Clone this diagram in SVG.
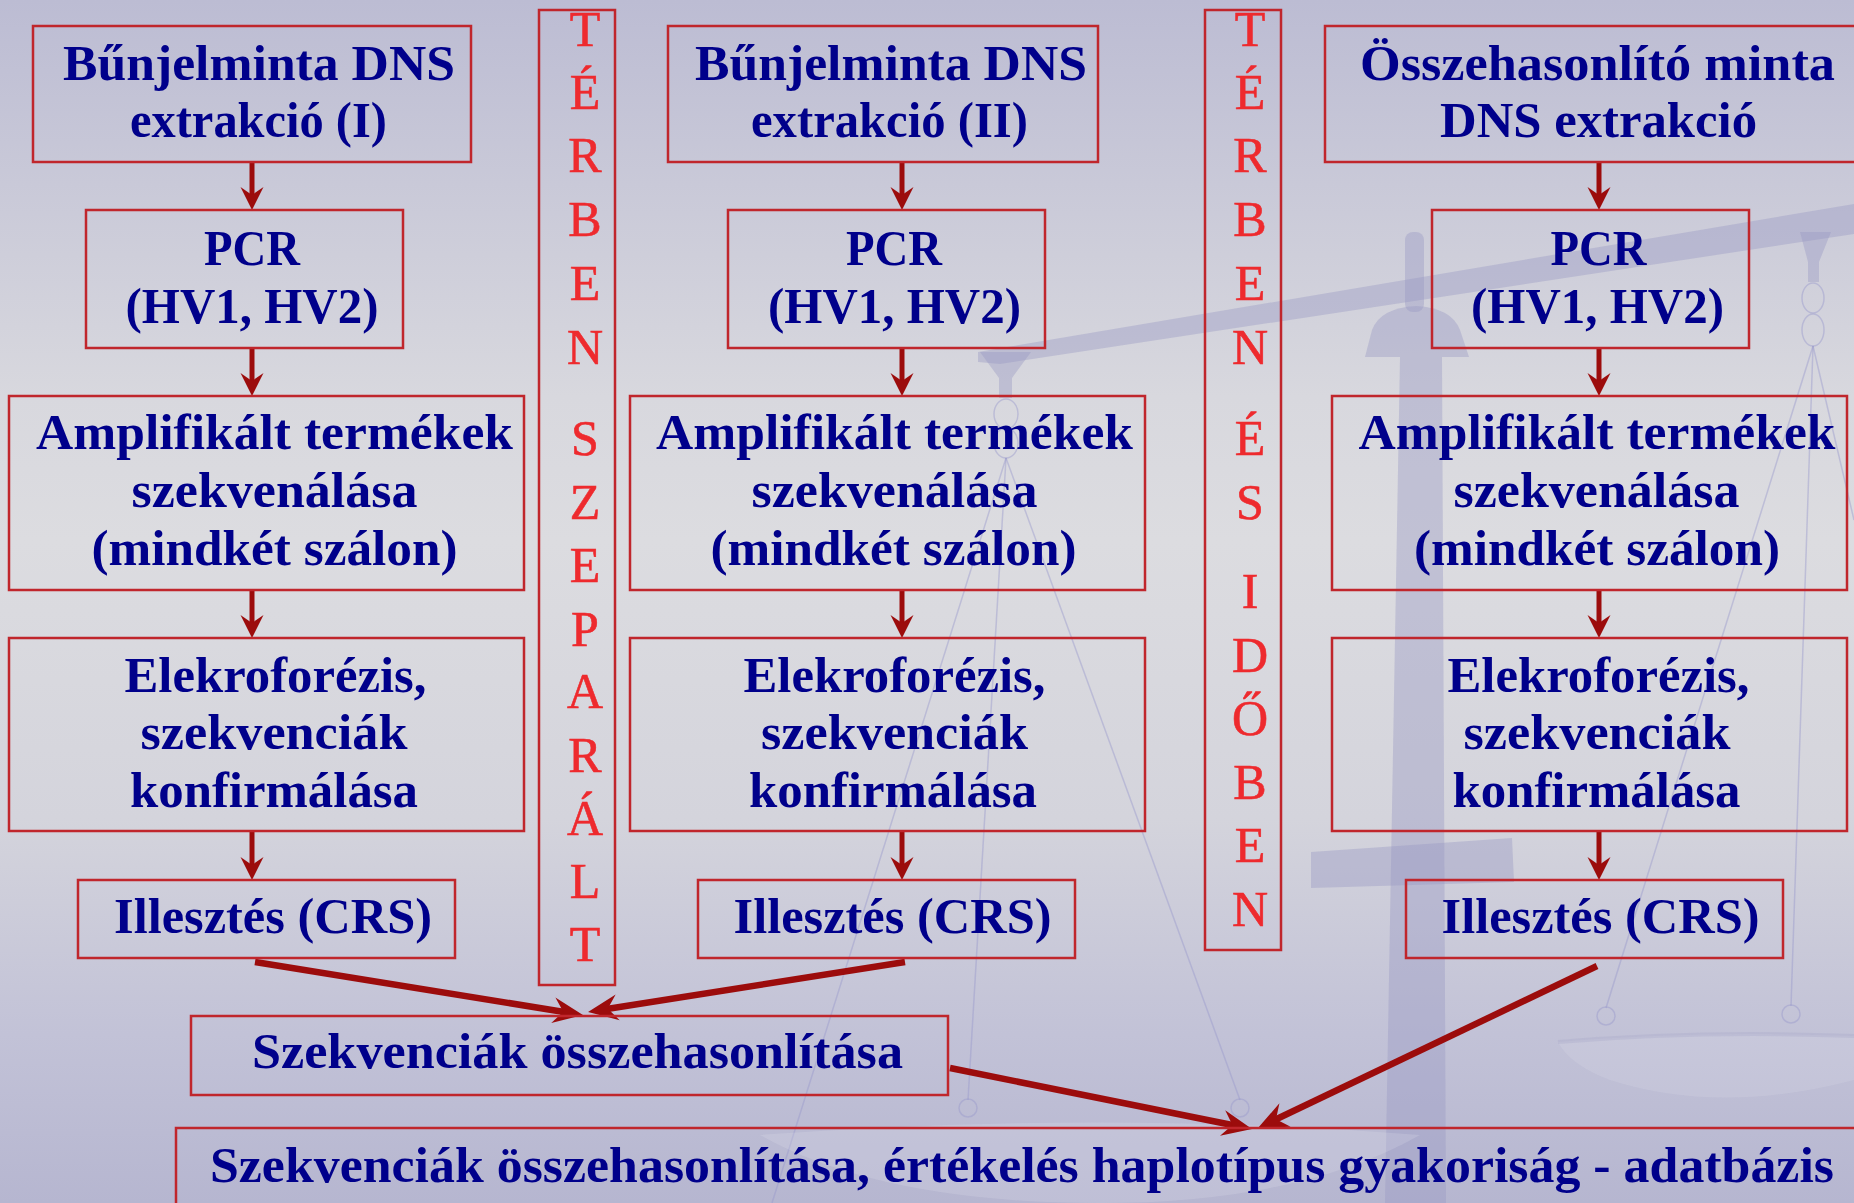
<svg xmlns="http://www.w3.org/2000/svg" width="1854" height="1203" viewBox="0 0 1854 1203">
  <defs>
    <linearGradient id="bg" x1="0" y1="0" x2="0" y2="1">
      <stop offset="0" stop-color="#bcbcd3"/>
      <stop offset="0.33" stop-color="#d8d8de"/>
      <stop offset="0.45" stop-color="#dcdce0"/>
      <stop offset="0.68" stop-color="#d4d4dc"/>
      <stop offset="0.86" stop-color="#c2c2d7"/>
      <stop offset="1" stop-color="#b6b6d0"/>
    </linearGradient>
    <marker id="ah" viewBox="-24 -12 25 24" markerWidth="25" markerHeight="24" refX="-14" refY="0" orient="auto" markerUnits="userSpaceOnUse">
      <path d="M0,0 L-23,-11.5 L-15,0 L-23,11.5 Z" fill="#9c0c0c"/>
    </marker>
    <marker id="ah2" viewBox="-31 -14 32 28" markerWidth="32" markerHeight="28" refX="-19" refY="0" orient="auto" markerUnits="userSpaceOnUse">
      <path d="M0,0 L-30,-13 L-20,0 L-30,13 Z" fill="#9c0c0c"/>
    </marker>
    <style>
      .box { fill: none; stroke: #c0262c; stroke-width: 2.5; }
      .t { font-family: "Liberation Serif", "Times New Roman", serif; font-weight: bold; font-size: 50px; fill: #00008b; text-anchor: middle; }
      .v { font-family: "Liberation Serif", "Times New Roman", serif; font-size: 50px; fill: #ee2a2e; text-anchor: middle; stroke: #ee2a2e; stroke-width: 0.6; }
      .arr { stroke: #9c0c0c; stroke-width: 5; fill: none; marker-end: url(#ah); }
      .arr2 { stroke: #9c0c0c; stroke-width: 6.5; fill: none; marker-end: url(#ah2); }
      .wm { fill: #9898c4; opacity: 0.4; }
      .str { stroke: #9a9acc; stroke-width: 1.5; fill: none; opacity: 0.45; }
    </style>
  </defs>

  <!-- backdrop -->
  <rect x="0" y="0" width="1854" height="1203" fill="url(#bg)"/>

  <!-- faint balance-scale watermark -->
  <g id="watermark">
    <polygon class="wm" points="978,352 1854,204 1854,234 1000,364 978,362"/>
    <rect class="wm" x="1405" y="232" width="19" height="80" rx="8"/>
    <path class="wm" d="M1365,357 L1372,330 Q1380,308 1416,306 Q1452,308 1460,330 L1469,357 Z"/>
    <polygon class="wm" points="1400,357 1442,357 1446,1203 1385,1203" opacity="0.32"/>
    <polygon class="wm" points="1311,852 1512,838 1514,882 1311,888"/>
    <!-- left hanger -->
    <path class="wm" d="M980,352 L1031,352 L1012,378 L1012,398 L999,398 L999,378 Z"/>
    <ellipse class="str" cx="1006" cy="414" rx="12" ry="15"/>
    <ellipse class="str" cx="1006" cy="443" rx="12" ry="15"/>
    <line class="str" x1="1006" y1="458" x2="772" y2="1203"/>
    <line class="str" x1="1006" y1="458" x2="968" y2="1100"/>
    <line class="str" x1="1006" y1="458" x2="1240" y2="1100"/>
    <circle class="str" cx="968" cy="1108" r="9"/>
    <circle class="str" cx="1240" cy="1108" r="9"/>
    <path d="M760,1135 Q1100,1110 1420,1135 Q1300,1203 1100,1203 Q880,1203 760,1135 Z" fill="#e4e4ee" opacity="0.2"/>
    <!-- right hanger -->
    <path class="wm" d="M1800,232 L1831,232 L1819,262 L1819,282 L1808,282 L1808,262 Z"/>
    <ellipse class="str" cx="1813" cy="298" rx="11" ry="15"/>
    <ellipse class="str" cx="1813" cy="330" rx="11" ry="16"/>
    <line class="str" x1="1813" y1="346" x2="1606" y2="1008"/>
    <line class="str" x1="1813" y1="346" x2="1791" y2="1006"/>
    <line class="str" x1="1813" y1="346" x2="1854" y2="520"/>
    <circle class="str" cx="1606" cy="1016" r="9"/>
    <circle class="str" cx="1791" cy="1014" r="9"/>
    <path d="M1558,1042 Q1700,1030 1854,1036 L1854,1080 Q1720,1115 1610,1080 Q1570,1065 1558,1042 Z" fill="#e2e2ec" opacity="0.18"/>
    <path d="M1558,1042 Q1700,1030 1854,1036" stroke="#a4a4c8" stroke-width="4" fill="none" opacity="0.3"/>
  </g>

  <!-- connectors -->
  <g id="connectors">
    <line class="arr" x1="252" y1="163" x2="252" y2="196"/>
    <line class="arr" x1="252" y1="349" x2="252" y2="382"/>
    <line class="arr" x1="252" y1="591" x2="252" y2="624"/>
    <line class="arr" x1="252" y1="832" x2="252" y2="866"/>
    <line class="arr" x1="902" y1="163" x2="902" y2="196"/>
    <line class="arr" x1="902" y1="349" x2="902" y2="382"/>
    <line class="arr" x1="902" y1="591" x2="902" y2="624"/>
    <line class="arr" x1="902" y1="832" x2="902" y2="866"/>
    <line class="arr" x1="1599" y1="163" x2="1599" y2="196"/>
    <line class="arr" x1="1599" y1="349" x2="1599" y2="382"/>
    <line class="arr" x1="1599" y1="591" x2="1599" y2="624"/>
    <line class="arr" x1="1599" y1="832" x2="1599" y2="866"/>
    <line class="arr2" x1="255" y1="962" x2="564.2" y2="1012"/>
    <line class="arr2" x1="905" y1="962" x2="606.8" y2="1009"/>
    <line class="arr2" x1="950" y1="1068" x2="1233.4" y2="1125.2"/>
    <line class="arr2" x1="1597" y1="966" x2="1275.1" y2="1119.8"/>
  </g>

  <!-- separator: spatially separated -->
  <g id="sep-space">
    <rect class="box" x="539" y="10" width="76" height="975"/>
    <text class="v" x="585" y="46">T</text>
    <text class="v" x="585" y="109">É</text>
    <text class="v" x="585" y="172">R</text>
    <text class="v" x="585" y="236">B</text>
    <text class="v" x="585" y="300">E</text>
    <text class="v" x="585" y="364">N</text>
    <text class="v" x="585" y="455">S</text>
    <text class="v" x="585" y="519">Z</text>
    <text class="v" x="585" y="582">E</text>
    <text class="v" x="585" y="646">P</text>
    <text class="v" x="585" y="708">A</text>
    <text class="v" x="585" y="772">R</text>
    <text class="v" x="585" y="835">Á</text>
    <text class="v" x="585" y="898">L</text>
    <text class="v" x="585" y="961">T</text>
  </g>

  <!-- separator: separated in space and time -->
  <g id="sep-time">
    <rect class="box" x="1205" y="10" width="76" height="940"/>
    <text class="v" x="1250" y="46">T</text>
    <text class="v" x="1250" y="109">É</text>
    <text class="v" x="1250" y="172">R</text>
    <text class="v" x="1250" y="236">B</text>
    <text class="v" x="1250" y="300">E</text>
    <text class="v" x="1250" y="364">N</text>
    <text class="v" x="1250" y="455">É</text>
    <text class="v" x="1250" y="519">S</text>
    <text class="v" x="1250" y="608">I</text>
    <text class="v" x="1250" y="672">D</text>
    <text class="v" x="1250" y="735">Ő</text>
    <text class="v" x="1250" y="799">B</text>
    <text class="v" x="1250" y="862">E</text>
    <text class="v" x="1250" y="926">N</text>
  </g>

  <!-- column 1: evidence sample I -->
  <g id="c1-extract">
    <rect class="box" x="33" y="26" width="438" height="136"/>
    <text class="t" x="259" y="80" textLength="392" lengthAdjust="spacingAndGlyphs">Bűnjelminta DNS</text>
    <text class="t" x="258.5" y="137" textLength="257" lengthAdjust="spacingAndGlyphs">extrakció (I)</text>
  </g>
  <g id="c1-pcr">
    <rect class="box" x="86" y="210" width="317" height="138"/>
    <text class="t" x="252" y="265" textLength="96" lengthAdjust="spacingAndGlyphs">PCR</text>
    <text class="t" x="252" y="323" textLength="253" lengthAdjust="spacingAndGlyphs">(HV1, HV2)</text>
  </g>
  <g id="c1-seq">
    <rect class="box" x="9" y="396" width="515" height="194"/>
    <text class="t" x="274.5" y="449" textLength="477" lengthAdjust="spacingAndGlyphs">Amplifikált termékek</text>
    <text class="t" x="274.5" y="507" textLength="286" lengthAdjust="spacingAndGlyphs">szekvenálása</text>
    <text class="t" x="274.5" y="565" textLength="366" lengthAdjust="spacingAndGlyphs">(mindkét szálon)</text>
  </g>
  <g id="c1-electro">
    <rect class="box" x="9" y="638" width="515" height="193"/>
    <text class="t" x="275.5" y="692" textLength="302" lengthAdjust="spacingAndGlyphs">Elekroforézis,</text>
    <text class="t" x="274" y="749" textLength="267" lengthAdjust="spacingAndGlyphs">szekvenciák</text>
    <text class="t" x="274" y="807" textLength="288" lengthAdjust="spacingAndGlyphs">konfirmálása</text>
  </g>
  <g id="c1-align">
    <rect class="box" x="78" y="880" width="377" height="78"/>
    <text class="t" x="273" y="933" textLength="318" lengthAdjust="spacingAndGlyphs">Illesztés (CRS)</text>
  </g>

  <!-- column 2: evidence sample II -->
  <g id="c2-extract">
    <rect class="box" x="668" y="26" width="430" height="136"/>
    <text class="t" x="891" y="80" textLength="392" lengthAdjust="spacingAndGlyphs">Bűnjelminta DNS</text>
    <text class="t" x="889.5" y="137" textLength="277" lengthAdjust="spacingAndGlyphs">extrakció (II)</text>
  </g>
  <g id="c2-pcr">
    <rect class="box" x="728" y="210" width="317" height="138"/>
    <text class="t" x="894" y="265" textLength="96" lengthAdjust="spacingAndGlyphs">PCR</text>
    <text class="t" x="894.5" y="323" textLength="253" lengthAdjust="spacingAndGlyphs">(HV1, HV2)</text>
  </g>
  <g id="c2-seq">
    <rect class="box" x="630" y="396" width="515" height="194"/>
    <text class="t" x="894.5" y="449" textLength="477" lengthAdjust="spacingAndGlyphs">Amplifikált termékek</text>
    <text class="t" x="894.5" y="507" textLength="286" lengthAdjust="spacingAndGlyphs">szekvenálása</text>
    <text class="t" x="893.5" y="565" textLength="366" lengthAdjust="spacingAndGlyphs">(mindkét szálon)</text>
  </g>
  <g id="c2-electro">
    <rect class="box" x="630" y="638" width="515" height="193"/>
    <text class="t" x="894.5" y="692" textLength="302" lengthAdjust="spacingAndGlyphs">Elekroforézis,</text>
    <text class="t" x="894.5" y="749" textLength="267" lengthAdjust="spacingAndGlyphs">szekvenciák</text>
    <text class="t" x="893" y="807" textLength="288" lengthAdjust="spacingAndGlyphs">konfirmálása</text>
  </g>
  <g id="c2-align">
    <rect class="box" x="698" y="880" width="377" height="78"/>
    <text class="t" x="892.5" y="933" textLength="318" lengthAdjust="spacingAndGlyphs">Illesztés (CRS)</text>
  </g>

  <!-- column 3: reference sample -->
  <g id="c3-extract">
    <rect class="box" x="1325" y="26" width="560" height="136"/>
    <text class="t" x="1597.5" y="80" textLength="475" lengthAdjust="spacingAndGlyphs">Összehasonlító minta</text>
    <text class="t" x="1598.5" y="137" textLength="317" lengthAdjust="spacingAndGlyphs">DNS extrakció</text>
  </g>
  <g id="c3-pcr">
    <rect class="box" x="1432" y="210" width="317" height="138"/>
    <text class="t" x="1598.5" y="265" textLength="96" lengthAdjust="spacingAndGlyphs">PCR</text>
    <text class="t" x="1597.5" y="323" textLength="253" lengthAdjust="spacingAndGlyphs">(HV1, HV2)</text>
  </g>
  <g id="c3-seq">
    <rect class="box" x="1332" y="396" width="515" height="194"/>
    <text class="t" x="1597" y="449" textLength="477" lengthAdjust="spacingAndGlyphs">Amplifikált termékek</text>
    <text class="t" x="1596.5" y="507" textLength="286" lengthAdjust="spacingAndGlyphs">szekvenálása</text>
    <text class="t" x="1597" y="565" textLength="366" lengthAdjust="spacingAndGlyphs">(mindkét szálon)</text>
  </g>
  <g id="c3-electro">
    <rect class="box" x="1332" y="638" width="515" height="193"/>
    <text class="t" x="1598.5" y="692" textLength="302" lengthAdjust="spacingAndGlyphs">Elekroforézis,</text>
    <text class="t" x="1597" y="749" textLength="267" lengthAdjust="spacingAndGlyphs">szekvenciák</text>
    <text class="t" x="1596.5" y="807" textLength="288" lengthAdjust="spacingAndGlyphs">konfirmálása</text>
  </g>
  <g id="c3-align">
    <rect class="box" x="1406" y="880" width="377" height="78"/>
    <text class="t" x="1600.5" y="933" textLength="318" lengthAdjust="spacingAndGlyphs">Illesztés (CRS)</text>
  </g>

  <!-- comparison steps -->
  <g id="compare">
    <rect class="box" x="191" y="1016" width="757" height="79"/>
    <text class="t" x="577.5" y="1068" textLength="651" lengthAdjust="spacingAndGlyphs">Szekvenciák összehasonlítása</text>
  </g>
  <g id="evaluate">
    <rect class="box" x="176" y="1128" width="1720" height="100"/>
    <text class="t" x="1022" y="1182" textLength="1624" lengthAdjust="spacingAndGlyphs">Szekvenciák összehasonlítása, értékelés haplotípus gyakoriság - adatbázis</text>
  </g>
</svg>
